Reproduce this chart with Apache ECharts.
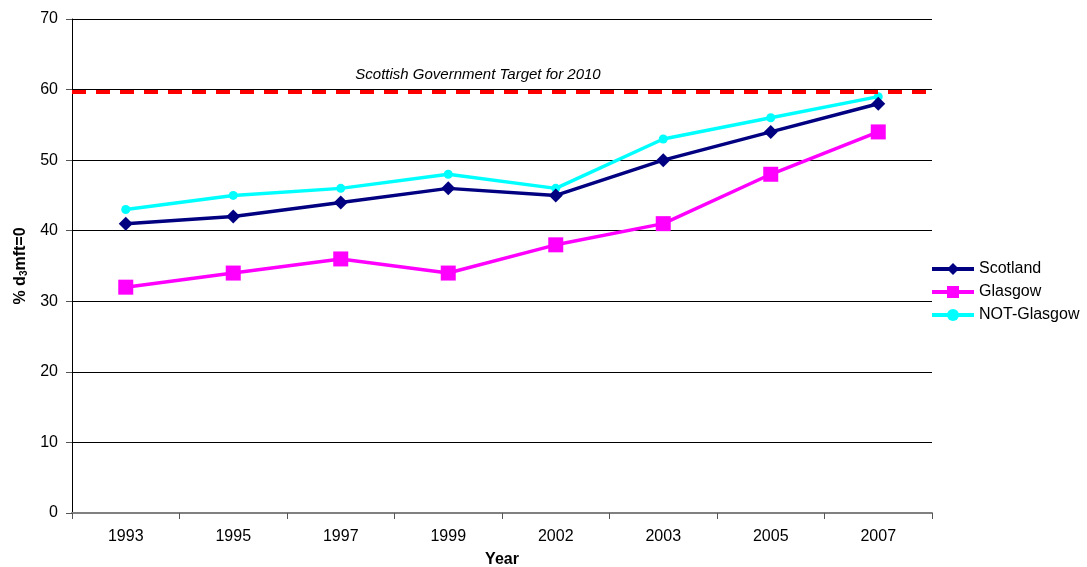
<!DOCTYPE html>
<html>
<head>
<meta charset="utf-8">
<script src="https://cdn.jsdelivr.net/npm/echarts@6/dist/echarts.min.js"></script>
<style>
  html, body { margin: 0; padding: 0; background: #fff; }
  #chart { width: 1087px; height: 567px; }
</style>
</head>
<body>
<div id="chart"></div>
<script>
const years = ["1993", "1995", "1997", "1999", "2002", "2003", "2005", "2007"];
const scotland = [41, 42, 44, 46, 45, 50, 54, 58];
const glasgow = [32, 34, 36, 34, 38, 41, 48, 54];
const notGlasgow = [43, 45, 46, 48, 46, 53, 56, 59];
const target = 59.7;
const targetLabel = "Scottish Government Target for 2010";

const chart = echarts.init(document.getElementById("chart"));
const font = "Liberation Sans, Arial, sans-serif";

chart.setOption({
  backgroundColor: "#fff",
  animation: false,
  textStyle: { fontFamily: font },
  grid: { left: 72, right: 155, top: 19, bottom: 54, outerBoundsMode: "none", containLabel: false },
  legend: {
    orient: "vertical",
    left: 925,
    top: 256,
    itemGap: 7,
    itemWidth: 42,
    itemHeight: 15,
    lineStyle: { width: 4 },
    textStyle: { fontSize: 16, color: "#000", fontFamily: font },
    data: ["Scotland", "Glasgow", "NOT-Glasgow"],
  },
  xAxis: {
    type: "category",
    data: years,
    boundaryGap: true,
    name: "Year",
    nameLocation: "middle",
    nameGap: 39,
    nameTextStyle: { fontWeight: "bold", fontSize: 16, color: "#000" },
    axisLine: { lineStyle: { color: "#808080", width: 2 } },
    axisTick: { show: true, alignWithLabel: false, length: 6, lineStyle: { color: "#555" } },
    axisLabel: { fontSize: 16, color: "#000", margin: 16 },
    splitLine: { show: false },
  },
  yAxis: {
    type: "value",
    min: 0,
    max: 70,
    interval: 10,
    name: "{a|% d}{s|3}{a|mft=0}",
    nameLocation: "middle",
    nameGap: 42,
    nameRotate: 90,
    nameTextStyle: {
      rich: {
        a: { fontWeight: "bold", fontSize: 16, color: "#000", fontFamily: font },
        s: { fontWeight: "bold", fontSize: 10, color: "#000", fontFamily: font, padding: [8, 0, 0, 0] },
      },
    },
    axisLine: { show: true, lineStyle: { color: "#000", width: 1 } },
    axisTick: { show: true, length: 6, lineStyle: { color: "#555" } },
    axisLabel: { fontSize: 16, color: "#000", margin: 14 },
    splitLine: { show: true, lineStyle: { color: "#000", width: 1 } },
  },
  series: [
    {
      name: "Scotland",
      type: "line",
      data: scotland,
      symbol: "diamond",
      symbolSize: 14,
      lineStyle: { color: "#000080", width: 3.5 },
      itemStyle: { color: "#000080" },
      markLine: {
        silent: true,
        symbol: "none",
        data: [{ yAxis: target }],
        lineStyle: { color: "#ff0000", type: [14, 10], width: 4 },
        label: {
          show: true,
          position: "insideMiddleTop",
          formatter: targetLabel,
          fontStyle: "italic",
          fontSize: 15,
          color: "#000",
          distance: 9,
          offset: [-24, 0],
        },
      },
      z: 3,
    },
    {
      name: "Glasgow",
      type: "line",
      data: glasgow,
      symbol: "rect",
      symbolSize: 15,
      lineStyle: { color: "#ff00ff", width: 3.5 },
      itemStyle: { color: "#ff00ff" },
      z: 2,
    },
    {
      name: "NOT-Glasgow",
      type: "line",
      data: notGlasgow,
      symbol: "circle",
      symbolSize: 9,
      lineStyle: { color: "#00ffff", width: 3.5 },
      itemStyle: { color: "#00ffff" },
      z: 2,
    },
  ],
});
</script>
</body>
</html>
